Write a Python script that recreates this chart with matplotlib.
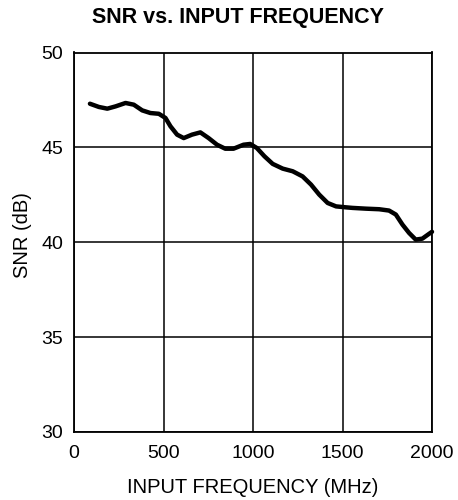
import matplotlib
matplotlib.use("Agg")
import matplotlib.pyplot as plt

plt.rcParams['font.family'] = ['Liberation Sans', 'DejaVu Sans']

freq_mhz = [89, 139, 186, 232, 288, 334, 381, 427, 474, 511, 539, 576, 613, 659, 706,
            752, 799, 845, 891, 947, 984, 1021, 1064, 1110, 1166, 1222, 1277, 1324,
            1370, 1417, 1464, 1519, 1556, 1631, 1705, 1760, 1798, 1835, 1872, 1909,
            1946, 1983, 2000]
snr_db = [47.30, 47.13, 47.04, 47.16, 47.34, 47.25, 46.95, 46.81, 46.77, 46.55, 46.11,
          45.67, 45.49, 45.67, 45.79, 45.49, 45.14, 44.93, 44.93, 45.14, 45.18, 44.97,
          44.53, 44.13, 43.88, 43.74, 43.47, 43.04, 42.51, 42.07, 41.89, 41.84, 41.81,
          41.77, 41.74, 41.67, 41.46, 40.93, 40.49, 40.14, 40.19, 40.44, 40.55]

x_ticks = [0, 500, 1000, 1500, 2000]
y_ticks = [30, 35, 40, 45, 50]

fig = plt.figure(figsize=(4.58, 5.0), dpi=100)
ax = fig.add_axes([74 / 458, 68 / 500, 358 / 458, 379.5 / 500])
ax.plot(freq_mhz, snr_db, color='black', lw=3.2, solid_joinstyle='round',
        solid_capstyle='round', clip_on=False)
ax.set_xlim(0, 2000)
ax.set_ylim(30, 50)
ax.set_xticks(x_ticks)
ax.set_yticks(y_ticks)
ax.grid(True, color='black', lw=1.1)
ax.tick_params(length=0, labelsize=14)
ax.tick_params(axis='x', pad=9)
ax.tick_params(axis='y', pad=8)
for s in ax.spines.values():
    s.set_linewidth(1.3)
ax.set_xlabel('INPUT FREQUENCY (MHz)', fontsize=14.5, labelpad=12)
ax.set_ylabel('SNR (dB)', fontsize=14.5)
ax.yaxis.set_label_coords(-0.117, 0.518)
fig.text(237.5 / 458, 0.964, 'SNR vs. INPUT FREQUENCY', ha='center', va='center',
         fontsize=15.5, fontweight='bold')
fig.savefig('out.png', dpi=100)
